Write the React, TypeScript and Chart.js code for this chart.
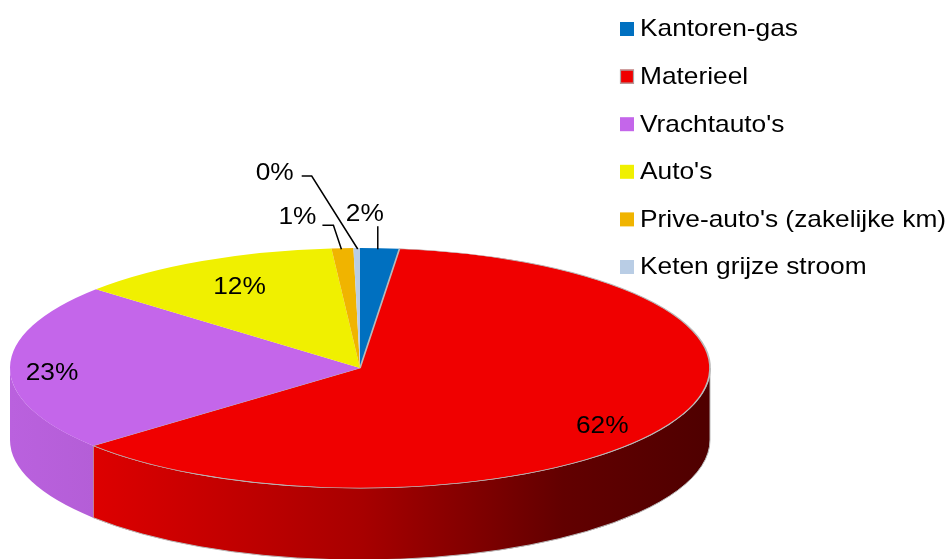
import React, { useEffect, useRef } from "react";
import { Chart, registerables } from "chart.js";

Chart.register(...registerables);

// ---- data ----
const categories = [
  "Kantoren-gas",
  "Materieel",
  "Vrachtauto's",
  "Auto's",
  "Prive-auto's (zakelijke km)",
  "Keten grijze stroom",
];
const shares = [1.8, 62.0, 22.6, 12.3, 1.0, 0.3];
const sliceColors = ["#0070C0", "#F00000", "#C466EA", "#F0F000", "#F0B400", "#B9CDE5"];
const sliceBorderColors = ["#B9B9B9", "#B9B9B9", "#B9B9B9", "#B9B9B9", "#B9B9B9", "#B9B9B9"];
const sliceBorderWidths = [0, 0.6, 0, 0, 0, 0];

// ---- style / layout ----
const FONT = '24px "Liberation Sans", Arial, sans-serif';
const XSTRETCH = 1.096;
const DEPTH = 72;
const LABEL_FACTOR = 0.82;
const SIDE_STOPS: [number, number][] = [
  [0, 0.95],
  [0.12, 0.92],
  [0.5, 0.7],
  [0.79, 0.41],
  [1, 0.33],
];
// small layout nudges for the inside labels (Excel "best fit" placement)
const labelNudge: Record<number, [number, number]> = {
  1: [-11, -2],
  2: [-21, 4],
  3: [9, 5],
};
// callouts for the thin slices: start, elbow, end of leader, text centre (relative to edge point)
const calloutLayout: Record<
  number,
  { start: [number, number]; elbow: [number, number]; end: [number, number]; text: [number, number] }
> = {
  0: { start: [-2, 1], elbow: [-2, -22], end: [-2, -22], text: [-15, -36] },
  4: { start: [-1, 1], elbow: [-9, -23], end: [-20, -23], text: [-45, -33] },
  5: { start: [1, 1], elbow: [-45, -72], end: [-55, -72], text: [-82, -77] },
};

function shade(hex: string, k: number) {
  const n = parseInt(hex.slice(1), 16);
  const r = Math.round(((n >> 16) & 255) * k);
  const g = Math.round(((n >> 8) & 255) * k);
  const b = Math.round((n & 255) * k);
  return `rgb(${r},${g},${b})`;
}

function drawText(
  ctx: CanvasRenderingContext2D,
  text: string,
  x: number,
  baseline: number,
  align: "left" | "center" | "right"
) {
  ctx.save();
  ctx.font = FONT;
  ctx.fillStyle = "#000";
  ctx.textBaseline = "alphabetic";
  ctx.textAlign = "left";
  const w = ctx.measureText(text).width * XSTRETCH;
  const left = align === "center" ? x - w / 2 : align === "right" ? x - w : x;
  ctx.translate(left, baseline);
  ctx.scale(XSTRETCH, 1);
  ctx.fillText(text, 0, 0);
  ctx.restore();
}

const CAP_HALF = 8.6;

const pie3d = {
  id: "pie3d",
  beforeDatasetsDraw(chart: any) {
    const meta = chart.getDatasetMeta(0);
    const arcs = meta.data;
    chart.$pieSaved = false;
    if (!arcs.length) return;
    const ca = chart.chartArea;
    const a0 = arcs[0];
    const cx = a0.x;
    const cy = a0.y;
    const r = a0.outerRadius;
    const rx = (ca.right - ca.left) / 2;
    const ry = (ca.bottom - ca.top) / 2;
    const ctx: CanvasRenderingContext2D = chart.ctx;
    // side walls (front half only)
    arcs.forEach((arc: any, i: number) => {
      const s = Math.max(arc.startAngle, 0);
      const e = Math.min(arc.endAngle, Math.PI);
      if (e <= s) return;
      const g = ctx.createLinearGradient(cx - rx, 0, cx + rx, 0);
      SIDE_STOPS.forEach(([f, k]) => g.addColorStop(f, shade(sliceColors[i], k)));
      ctx.beginPath();
      ctx.ellipse(cx, cy, rx, ry, 0, s, e);
      ctx.ellipse(cx, cy + DEPTH, rx, ry, 0, e, s, true);
      ctx.closePath();
      ctx.fillStyle = g;
      ctx.fill();
      if (sliceBorderWidths[i] > 0) {
        ctx.lineWidth = 1;
        ctx.strokeStyle = sliceBorderColors[i];
        ctx.stroke();
      }
    });
    ctx.save();
    ctx.translate(cx, cy);
    ctx.scale(rx / r, ry / r);
    ctx.translate(-cx, -cy);
    chart.$pieSaved = true;
  },
  afterDatasetsDraw(chart: any) {
    const ctx: CanvasRenderingContext2D = chart.ctx;
    if (chart.$pieSaved) ctx.restore();
    const meta = chart.getDatasetMeta(0);
    const arcs = meta.data;
    if (!arcs.length) return;
    const ca = chart.chartArea;
    const cx = arcs[0].x;
    const cy = arcs[0].y;
    const rx = (ca.right - ca.left) / 2;
    const ry = (ca.bottom - ca.top) / 2;
    const values: number[] = chart.data.datasets[0].data;
    const total = values.reduce((a, b) => a + b, 0);

    // percentage labels
    arcs.forEach((arc: any, i: number) => {
      const pct = Math.round((values[i] / total) * 100);
      const text = `${pct}%`;
      const mid = (arc.startAngle + arc.endAngle) / 2;
      const dx = Math.cos(mid);
      const dy = Math.sin(mid);
      const co = calloutLayout[i];
      if (co) {
        const ex = cx + rx * dx;
        const ey = cy + ry * dy;
        ctx.save();
        ctx.strokeStyle = "#000";
        ctx.lineWidth = 1.5;
        ctx.beginPath();
        ctx.moveTo(ex + co.start[0], ey + co.start[1]);
        ctx.lineTo(ex + co.elbow[0], ey + co.elbow[1]);
        ctx.lineTo(ex + co.end[0], ey + co.end[1]);
        ctx.stroke();
        ctx.restore();
        drawText(ctx, text, ex + co.text[0], ey + co.text[1] + CAP_HALF, "center");
      } else {
        const nudge = labelNudge[i] || [0, 0];
        const lx = cx + rx * LABEL_FACTOR * dx + nudge[0];
        const ly = cy + ry * LABEL_FACTOR * dy + Math.max(0, dy) * DEPTH * 0.35 + nudge[1];
        drawText(ctx, text, lx, ly + CAP_HALF, "center");
      }
    });

    // legend
    const boxX = 620;
    const boxSize = 14;
    const top0 = 22;
    const step = 47.6;
    chart.data.labels.forEach((label: string, i: number) => {
      const y = top0 + i * step;
      ctx.fillStyle = sliceColors[i];
      ctx.fillRect(boxX, y, boxSize, boxSize);
      if (sliceBorderWidths[i] > 0) {
        ctx.strokeStyle = "#A8A8A8";
        ctx.lineWidth = 1.2;
        ctx.strokeRect(boxX + 0.5, y + 0.5, boxSize - 1, boxSize - 1);
      }
      drawText(ctx, label, 640, y + 14.3, "left");
    });
  },
};

export default function App() {
  const ref = useRef<HTMLCanvasElement | null>(null);
  useEffect(() => {
    if (!ref.current) return;
    const chart = new Chart(ref.current, {
      type: "pie",
      data: {
        labels: categories,
        datasets: [
          {
            data: shares,
            backgroundColor: sliceColors,
            borderColor: sliceBorderColors,
            borderWidth: sliceBorderWidths,
            hoverOffset: 0,
            offset: 0,
            clip: false,
          } as any,
        ],
      },
      options: {
        animation: false,
        responsive: false,
        devicePixelRatio: 1,
        events: [],
        layout: { padding: { left: 10, right: 242, top: 248, bottom: 71 } },
        plugins: { legend: { display: false }, tooltip: { enabled: false } },
      },
      plugins: [pie3d as any],
    });
    return () => chart.destroy();
  }, []);
  return (
    <div style={{ position: "fixed", left: 0, top: 0, width: 952, height: 559, background: "#fff" }}>
      <canvas ref={ref} width={952} height={559} style={{ display: "block", width: 952, height: 559 }} />
    </div>
  );
}
